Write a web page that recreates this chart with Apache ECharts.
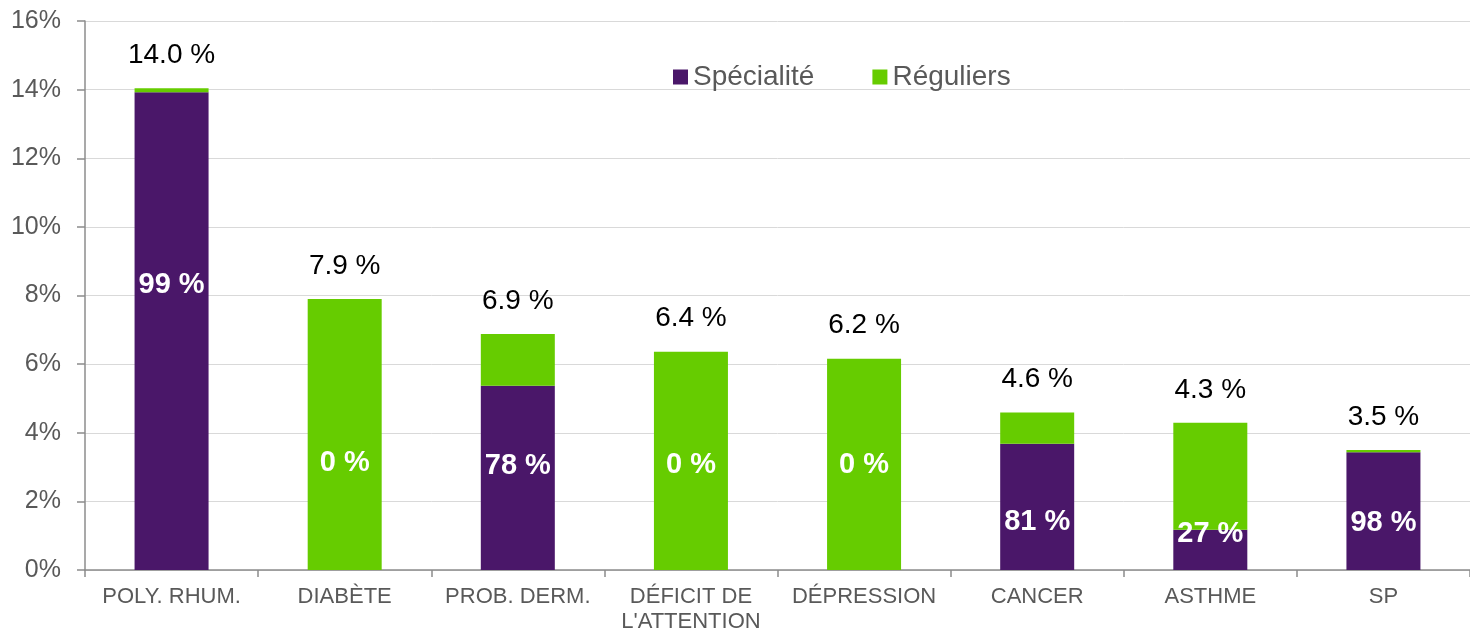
<!DOCTYPE html>
<html>
<head>
<meta charset="utf-8">
<script src="https://cdn.jsdelivr.net/npm/echarts@6/dist/echarts.min.js"></script>
<style>
html, body { margin: 0; padding: 0; background: #fff; }
#chart { width: 1470px; height: 630px; }
</style>
</head>
<body>
<div id="chart"></div>
<script>
var categories = ["POLY. RHUM.", "DIABÈTE", "PROB. DERM.", "DÉFICIT DE\nL'ATTENTION", "DÉPRESSION", "CANCER", "ASTHME", "SP"];
var totals = [14.0, 7.9, 6.9, 6.4, 6.2, 4.6, 4.3, 3.5];
var specialite = [13.92, 0, 5.37, 0, 0, 3.68, 1.17, 3.43];
var reguliers = [0.12, 7.9, 1.51, 6.36, 6.16, 0.91, 3.12, 0.07];
var shares = [99, 0, 78, 0, 0, 81, 27, 98];
var shareLabelY = [8.3, 3.13, 3.03, 3.07, 3.07, 1.41, 1.05, 1.37];

var chart = echarts.init(document.getElementById("chart"));

var font = "'Liberation Sans', Arial, sans-serif";

chart.setOption({
    animation: false,
    textStyle: { fontFamily: font },
    grid: { left: 85, right: 0, top: 21, bottom: 60, outerBoundsMode: "none", containLabel: false },
    legend: {
        left: 668,
        top: 58,
        itemWidth: 15,
        itemHeight: 15,
        itemGap: 58,
        icon: "rect",
        textStyle: { fontSize: 28, color: "#595959", fontFamily: font },
        data: ["Spécialité", "Réguliers"]
    },
    xAxis: {
        type: "category",
        data: categories,
        axisLine: { lineStyle: { color: "#8c8c8c", width: 1.5 } },
        axisTick: { show: true, alignWithLabel: false, length: 7, lineStyle: { color: "#8c8c8c", width: 1.5 } },
        axisLabel: { interval: 0, fontSize: 22, color: "#595959", margin: 14, lineHeight: 25, fontFamily: font }
    },
    yAxis: {
        type: "value",
        min: 0,
        max: 16,
        interval: 2,
        axisLine: { show: true, lineStyle: { color: "#8c8c8c", width: 1.5 } },
        axisTick: { show: true, length: 8, lineStyle: { color: "#8c8c8c", width: 1.5 } },
        axisLabel: { fontSize: 25, color: "#595959", margin: 24, formatter: "{value}%", fontFamily: font },
        splitLine: { lineStyle: { color: "#d9d9d9", width: 1 } }
    },
    series: [
        {
            name: "Spécialité",
            type: "bar",
            stack: "total",
            barWidth: 74,
            itemStyle: { color: "#4a1769" },
            data: specialite
        },
        {
            name: "Réguliers",
            type: "bar",
            stack: "total",
            barWidth: 74,
            itemStyle: { color: "#66cc00" },
            data: reguliers,
            label: {
                show: true,
                position: "top",
                distance: 19,
                fontSize: 28,
                color: "#000",
                fontFamily: font,
                formatter: function (p) { return totals[p.dataIndex].toFixed(1) + " %"; }
            }
        },
        {
            type: "scatter",
            symbolSize: 0,
            silent: true,
            data: shareLabelY,
            z: 10,
            itemStyle: { opacity: 1, color: "rgba(0,0,0,0)" },
            label: {
                show: true,
                position: "inside",
                fontSize: 29,
                fontWeight: "bold",
                color: "#fff",
                opacity: 1,
                fontFamily: font,
                formatter: function (p) { return shares[p.dataIndex] + " %"; }
            }
        }
    ]
});
</script>
</body>
</html>
